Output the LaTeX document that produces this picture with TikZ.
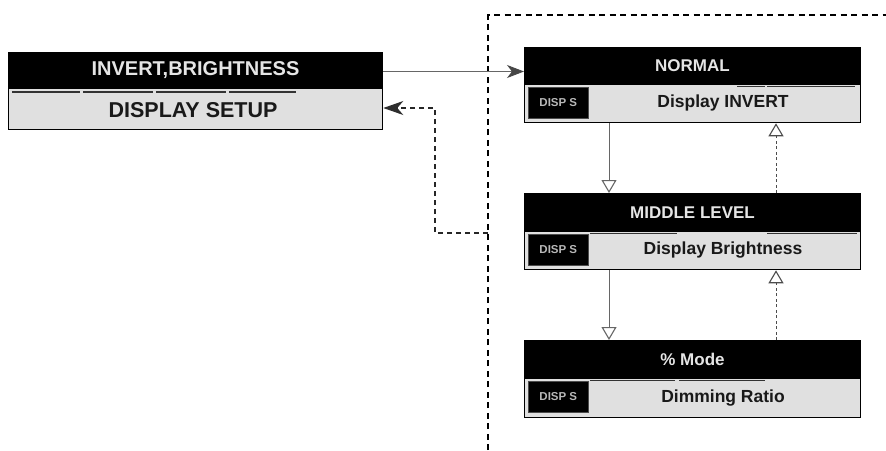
\documentclass[tikz,border=0pt]{standalone}
\usepackage{fontspec}
\setmainfont{Liberation Sans}
\usetikzlibrary{arrows.meta}

\begin{document}
\begin{tikzpicture}[x=1pt,y=-1pt,
  hdr/.style={draw=black, fill=black, text=white!90!black, line width=1pt,
    inner sep=0pt, anchor=north west, font=\bfseries\fontsize{17}{20}\selectfont},
  bdy/.style={draw=black, fill=black!12, line width=1.3pt, inner sep=0pt,
    anchor=north west},
  btxt/.style={inner sep=0pt, text=black!90,
    font=\bfseries\fontsize{17.5}{20}\selectfont},
  tag/.style={fill=black, draw=black!70, line width=0.6pt, text=black!28,
    inner sep=0pt, anchor=north west, minimum width=60pt,
    minimum height=31pt, font=\bfseries\fontsize{11.5}{13}\selectfont},
  rule/.style={draw=black!80, line width=1.6pt},
  link/.style={draw=black!60, line width=0.9pt},
  fwd/.style={link, -{Stealth[length=17pt, width=13pt, inset=5pt, color=black!72]}},
  back/.style={draw=black!85, line width=1.3pt, dash pattern=on 5pt off 4pt,
    -{Stealth[length=20pt, width=14pt, inset=6pt, color=black!82]}},
  down/.style={link, -{Triangle[open, length=13pt, width=15pt, line width=1.1pt]}},
  up/.style={draw=black!70, line width=1pt, dash pattern=on 3pt off 2.5pt,
    -{Triangle[open, length=13pt, width=15pt, line width=1.1pt, color=black!70]}},
  frame/.style={draw=black, line width=1.8pt, dash pattern=on 6pt off 4.5pt}
]
\useasboundingbox (0,0) rectangle (886,450);

% mode selection box
\node[hdr, minimum width=374pt, minimum height=36pt, font=\bfseries\fontsize{20}{24}\selectfont]
  (lhead) at (8,52) {INVERT,BRIGHTNESS};
\node[bdy, minimum width=374pt, minimum height=41pt] (lbody) at (8,88) {};
\node[btxt, font=\bfseries\fontsize{21.5}{24}\selectfont] (ltxt) at (193,110) {DISPLAY SETUP};
\draw[rule] (12,92) -- (80,92) (83,92) -- (153,92) (156,92) -- (226,92) (229,92) -- (296,92);

% state boxes
\node[hdr, minimum width=336pt, minimum height=37pt] (nhead) at (524,47) {NORMAL};
\node[bdy, minimum width=336pt, minimum height=38pt] (nbody) at (524,84) {};
\node[tag] (ntag) at (528,87) {DISP S};
\node[btxt] (ntxt) at (723,103) {Display INVERT};
\draw[rule] (737,86.5) -- (765,86.5) (767,86.5) -- (855,86.5);

\node[hdr, minimum width=336pt, minimum height=38pt] (mhead) at (524,193) {MIDDLE LEVEL};
\node[bdy, minimum width=336pt, minimum height=38pt] (mbody) at (524,231) {};
\node[tag] (mtag) at (528,234) {DISP S};
\node[btxt] (mtxt) at (723,250) {Display Brightness};
\draw[rule] (590,233.5) -- (677,233.5) (767,233.5) -- (857,233.5);

\node[hdr, minimum width=336pt, minimum height=38pt] (phead) at (524,340) {\% Mode};
\node[bdy, minimum width=336pt, minimum height=39pt] (pbody) at (524,378) {};
\node[tag] (ptag) at (528,381) {DISP S};
\node[btxt] (ptxt) at (723,398) {Dimming Ratio};
\draw[rule] (590,380.5) -- (675,380.5) (679,380.5) -- (765,380.5);

% dashed boundary of the state group
\coordinate (fa) at (488,450);
\coordinate (fb) at (488,15);
\coordinate (fc) at (886,15);
\draw[frame] (fa) -- (fb) -- (fc);

% entry and return
\draw[fwd] (lhead.east) ++(0,1) coordinate (ea) -- (ea -| nhead.west);
\coordinate (bj) at (488,233);
\coordinate (bk) at (435,233);
\coordinate (bl) at (435,108);
\draw[back] (bj) -- (bk) -- (bl) -- (bl -| lbody.east);

% transitions between states
\coordinate (dx) at (609,0);
\coordinate (ux) at (776,0);
\draw[down] (nbody.south -| dx) -- (mhead.north -| dx);
\draw[up] (mhead.north -| ux) -- (nbody.south -| ux);
\draw[down] (mbody.south -| dx) -- (phead.north -| dx);
\draw[up] (phead.north -| ux) -- (mbody.south -| ux);
\end{tikzpicture}
\end{document}
